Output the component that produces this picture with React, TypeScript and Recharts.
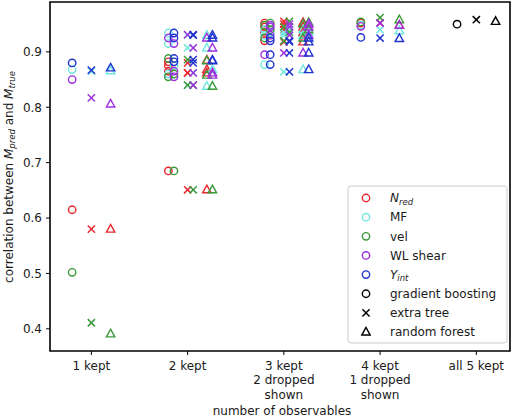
import React from 'react';
import { ScatterChart, Scatter, XAxis, YAxis, ReferenceArea } from 'recharts';

const groupLabels = ['1 kept', '2 kept', '3 kept\n2 dropped\nshown', '4 kept\n1 dropped\nshown', 'all 5 kept'];
const observableNames = ['N', 'MF', 'vel', 'WL shear', 'Y'];
const observableSubs = ['red', '', '', '', 'int'];
const observableColors = ['#e8262e', '#6fe8de', '#3a9b3a', '#9d30e0', '#2233d0'];
const methodLabels = ['gradient boosting', 'extra tree', 'random forest'];
const yTickValues = [0.4, 0.5, 0.6, 0.7, 0.8, 0.9];
const xTickValues = [0, 1, 2, 3, 4];

// 1 kept (kept observable shown)
const oneKeptObs = [[0], [1], [2], [3], [4]];
const oneKeptGB = [0.615, 0.868, 0.502, 0.850, 0.880];
const oneKeptET = [0.580, 0.865, 0.411, 0.817, 0.867];
const oneKeptRF = [0.580, 0.866, 0.391, 0.806, 0.871];

// 2 kept (kept observables shown)
const twoKeptObs = [[1, 4], [3, 4], [1, 3], [2, 4], [0, 4], [0, 1], [0, 3], [2, 3], [1, 2], [0, 2]];
const twoKeptGB = [0.934, 0.925, 0.915, 0.888, 0.882, 0.875, 0.865, 0.855, 0.860, 0.685];
const twoKeptET = [0.930, 0.931, 0.907, 0.886, 0.880, 0.862, 0.862, 0.840, 0.840, 0.651];
const twoKeptRF = [0.930, 0.925, 0.907, 0.884, 0.885, 0.868, 0.862, 0.858, 0.838, 0.651];

// 3 kept (2 dropped observables shown)
const threeKeptObs = [[1, 4], [3, 4], [0, 4], [2, 4], [1, 3], [0, 1], [1, 2], [0, 3], [2, 3], [0, 2]];
const threeKeptGB = [0.877, 0.895, 0.920, 0.925, 0.930, 0.935, 0.940, 0.945, 0.948, 0.952];
const threeKeptET = [0.864, 0.898, 0.918, 0.920, 0.930, 0.940, 0.935, 0.950, 0.945, 0.955];
const threeKeptRF = [0.868, 0.898, 0.918, 0.925, 0.930, 0.935, 0.940, 0.945, 0.950, 0.953];

// 4 kept (1 dropped observable shown)
const fourKeptObs = [[0], [1], [2], [3], [4]];
const fourKeptGB = [0.952, 0.948, 0.954, 0.946, 0.926];
const fourKeptET = [0.952, 0.940, 0.962, 0.952, 0.925];
const fourKeptRF = [0.948, 0.938, 0.958, 0.948, 0.924];

// all 5 kept
const allKeptGB = 0.950;
const allKeptET = 0.958;
const allKeptRF = 0.955;

const methodOffsets = [-0.2, 0, 0.2];
const comboStep = 0.058;
const FONT = 'DejaVu Sans, sans-serif';
const TEXT = '#1a1a1a';

type Pt = { x: number; y: number };

const groupsData = [
  { obs: oneKeptObs, vals: [oneKeptGB, oneKeptET, oneKeptRF] },
  { obs: twoKeptObs, vals: [twoKeptGB, twoKeptET, twoKeptRF] },
  { obs: threeKeptObs, vals: [threeKeptGB, threeKeptET, threeKeptRF] },
  { obs: fourKeptObs, vals: [fourKeptGB, fourKeptET, fourKeptRF] },
];
const allKeptVals = [allKeptGB, allKeptET, allKeptRF];

const series: { method: number; color: string; key: string; data: Pt[] }[] = [];
for (let m = 0; m < 3; m++) {
  for (let c = 0; c < 5; c++) {
    const data: Pt[] = [];
    groupsData.forEach((g, gi) => {
      g.obs.forEach((combo, k) => {
        combo.forEach((o, j) => {
          if (o === c) data.push({ x: gi + methodOffsets[m] + j * comboStep, y: g.vals[m][k] });
        });
      });
    });
    series.push({ method: m, color: observableColors[c], key: `m${m}c${c}`, data });
  }
  series.push({ method: m, color: '#000', key: `m${m}all`, data: [{ x: 4 + methodOffsets[m], y: allKeptVals[m] }] });
}

function Marker({ kind, cx, cy, color }: { kind: number; cx: number; cy: number; color: string }) {
  if (cx == null || cy == null) return null;
  if (kind === 0) return <circle cx={cx} cy={cy} r={3.7} fill="none" stroke={color} strokeWidth={1.4} />;
  if (kind === 1)
    return (
      <g stroke={color} strokeWidth={1.5}>
        <line x1={cx - 3.6} y1={cy - 3.6} x2={cx + 3.6} y2={cy + 3.6} />
        <line x1={cx - 3.6} y1={cy + 3.6} x2={cx + 3.6} y2={cy - 3.6} />
      </g>
    );
  return (
    <polygon
      points={`${cx},${cy - 4.6} ${cx - 4.2},${cy + 3} ${cx + 4.2},${cy + 3}`}
      fill="none"
      stroke={color}
      strokeWidth={1.4}
      strokeLinejoin="miter"
    />
  );
}

const XTick = (props: any) => {
  const { x, y, payload } = props;
  const lines = groupLabels[payload.value].split('\n');
  return (
    <text x={x} y={y} textAnchor="middle" fontSize={12} fill={TEXT} fontFamily={FONT}>
      {lines.map((l, i) => (
        <tspan key={i} x={x} dy={i === 0 ? '0.71em' : 14.7}>
          {l}
        </tspan>
      ))}
    </text>
  );
};

const legendRow0 = 198;
const legendRowStep = 19.15;

export default function App() {
  return (
    <div style={{ position: 'absolute', left: 0, top: 0, width: 520, height: 417, background: '#fff' }}>
      <ScatterChart width={520} height={417} margin={{ top: 2, right: 10, bottom: 0, left: 0 }}>
        <XAxis
          type="number"
          dataKey="x"
          domain={[-0.43, 4.35]}
          ticks={xTickValues}
          allowDataOverflow
          height={66}
          axisLine={false}
          tickLine={{ stroke: '#000', strokeWidth: 1 }}
          tickSize={4}
          tickMargin={6}
          tick={<XTick />}
          interval={0}
        />
        <YAxis
          type="number"
          dataKey="y"
          domain={[0.36, 0.99]}
          ticks={yTickValues}
          allowDataOverflow
          width={50}
          axisLine={false}
          tickLine={{ stroke: '#000', strokeWidth: 1 }}
          tickSize={4}
          tickMargin={4}
          tickFormatter={(v: number) => v.toFixed(1)}
          tick={{ fontSize: 12, fill: TEXT, fontFamily: FONT }}
        />
        {series.map((s) => (
          <Scatter
            key={s.key}
            data={s.data}
            isAnimationActive={false}
            shape={(p: any) => <Marker kind={s.method} cx={p.cx} cy={p.cy} color={s.color} />}
          />
        ))}
        <ReferenceArea x1={-0.43} x2={4.35} y1={0.36} y2={0.99} fill="none" stroke="#000" strokeWidth={1.6} ifOverflow="visible" />
      </ScatterChart>
      <svg width={520} height={417} style={{ position: 'absolute', left: 0, top: 0, pointerEvents: 'none' }}>
        <text
          transform="translate(12.5,177) rotate(-90)"
          textAnchor="middle"
          fontSize={12}
          fill={TEXT}
          fontFamily={FONT}
        >
          <tspan>correlation between </tspan>
          <tspan fontStyle="italic">M</tspan>
          <tspan fontStyle="italic" fontSize={8.5} dy={2.5}>pred</tspan>
          <tspan dy={-2.5}> and </tspan>
          <tspan fontStyle="italic">M</tspan>
          <tspan fontStyle="italic" fontSize={8.5} dy={2.5}>true</tspan>
        </text>
        <text x={282} y={415} textAnchor="middle" fontSize={12} fill={TEXT} fontFamily={FONT}>
          number of observables
        </text>
        <rect x={348} y={186} width={159} height={157} rx={3} fill="#fff" fillOpacity={0.8} stroke="#ccc" strokeWidth={1} />
        {observableNames.map((n, i) => {
          const y = legendRow0 + i * legendRowStep;
          const sub = observableSubs[i];
          return (
            <g key={n}>
              <Marker kind={0} cx={366} cy={y} color={observableColors[i]} />
              <text x={390} y={y + 4.3} fontSize={12} fill={TEXT} fontFamily={FONT}>
                {sub ? (
                  <>
                    <tspan fontStyle="italic">{n}</tspan>
                    <tspan fontStyle="italic" fontSize={8.5} dy={2.5}>{sub}</tspan>
                  </>
                ) : (
                  n
                )}
              </text>
            </g>
          );
        })}
        {methodLabels.map((n, i) => {
          const y = legendRow0 + (i + 5) * legendRowStep;
          return (
            <g key={n}>
              <Marker kind={i} cx={366} cy={y} color="#000" />
              <text x={390} y={y + 4.3} fontSize={12} fill={TEXT} fontFamily={FONT}>
                {n}
              </text>
            </g>
          );
        })}
      </svg>
    </div>
  );
}
